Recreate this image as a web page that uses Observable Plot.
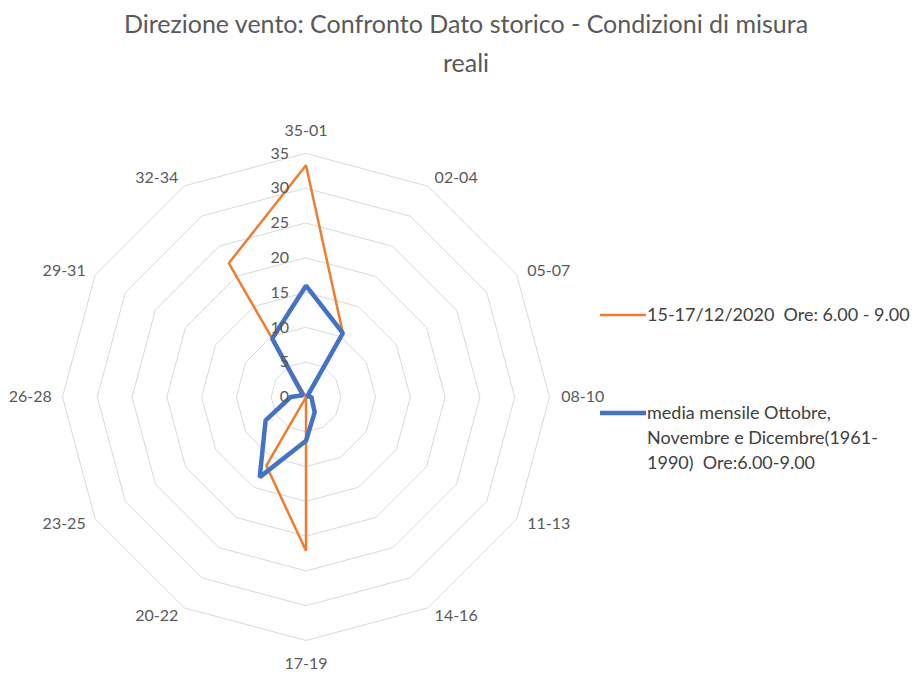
<!DOCTYPE html>
<html><head><meta charset="utf-8">
<script src="https://cdn.jsdelivr.net/npm/d3@7"></script>
<script src="https://cdn.jsdelivr.net/npm/@observablehq/plot@0.6"></script>
<style>
body{margin:0;background:#fff;font-family:Lato,"Open Sans",sans-serif;}
#wrap{position:relative;width:918px;height:675px;overflow:hidden;background:#fff}
#title{position:absolute;left:0;top:4px;width:932px;text-align:center;font-size:25px;line-height:39px;color:#595959}
#chart{position:absolute;left:0;top:85px}
.leg{position:absolute;left:600px;font-size:18px;color:#404040;line-height:25px;display:flex;align-items:flex-start;white-space:pre}
.leg svg{flex:none}
.leg span{margin-left:1px}
</style></head><body>
<div id="wrap">
<div id="title">Direzione vento: Confronto Dato storico - Condizioni di misura<br>reali</div>
<div id="chart"></div>
<div id="legend"></div>
</div>
<script>
const categories = ["35-01","02-04","05-07","08-10","11-13","14-16","17-19","20-22","23-25","26-28","29-31","32-34"];
const recentName = "15-17/12/2020  Ore: 6.00 - 9.00";
const recentValues = [33.3, 10.6, 0, 0, 0, 0, 22.1, 11.4, 0, 0, 0, 22.2];
const historicName = "media mensile Ottobre, Novembre e Dicembre(1961-1990)  Ore:6.00-9.00";
const historicValues = [16.0, 10.6, 0.2, 0.8, 1.0, 2.5, 6.3, 13.3, 6.7, 2.2, 0.5, 9.7];
const radialTicks = [0, 5, 10, 15, 20, 25, 30, 35];
const legendLines = [["15-17/12/2020  Ore: 6.00 - 9.00"], ["media mensile Ottobre,", "Novembre e Dicembre(1961-", "1990)  Ore:6.00-9.00"]];

const W = 918, H = 590, cx = 305.5, cy = 311.5;
const rMax = d3.max(radialTicks);
const k = 243.5 / rMax;
const n = categories.length;
const ang = i => i * 2 * Math.PI / n;
const px = (v, i) => v * Math.sin(ang(i));
const py = (v, i) => v * Math.cos(ang(i));

const rings = radialTicks.slice(1).flatMap(t => categories.map((c, i) => ({t, x: px(t, i), y: py(t, i)})));
const toRows = (name, vals) => categories.map((c, i) => ({name, cat: c, x: px(vals[i], i), y: py(vals[i], i)}));
const recent = toRows(recentName, recentValues);
const historic = toRows(historicName, historicValues);

const labR = 36.4, labRv = 38.3;
const labels = categories.map((c, i) => {
  const s = Math.sin(ang(i));
  const anchor = Math.abs(s) < 0.1 ? "middle" : (s > 0 ? "start" : "end");
  const r = anchor === "middle" ? labRv : labR;
  return {c, anchor, x: px(r, i), y: py(r, i)};
});

const txt = {fontSize: 16, fill: "#595959", fontFamily: "Lato, 'Open Sans', sans-serif"};
const chart = Plot.plot({
  width: W, height: H, margin: 0,
  style: {background: "transparent", overflow: "visible"},
  x: {domain: [-cx / k, (W - cx) / k], axis: null},
  y: {domain: [-(H - cy) / k, cy / k], axis: null},
  marks: [
    Plot.line(rings, {x: "x", y: "y", z: "t", curve: "linear-closed", stroke: "#d9d9d9", strokeWidth: 1}),
    Plot.line(recent, {x: "x", y: "y", curve: "linear-closed", stroke: "#ED7D31", strokeWidth: 2.5, strokeLinejoin: "miter"}),
    Plot.line(historic, {x: "x", y: "y", curve: "linear-closed", stroke: "#4472C4", strokeWidth: 4.5, strokeLinejoin: "miter"}),
    Plot.text(radialTicks, {x: () => 0, y: d => d, text: d => String(d), textAnchor: "end", dx: -17, ...txt}),
    ...["start", "middle", "end"].map(a => Plot.text(labels.filter(l => l.anchor === a), {
      x: "x", y: "y", text: "c", textAnchor: a, dx: a === "start" ? 2 : a === "end" ? -1 : 0, ...txt
    }))
  ]
});
document.getElementById("chart").appendChild(chart);

// legend
const legendColors = ["#ED7D31", "#4472C4"], legendWidths = [2.5, 4.5], legendTops = [302, 400];
const lg = document.getElementById("legend");
legendLines.forEach((lines, j) => {
  const div = document.createElement("div");
  div.className = "leg";
  div.style.top = legendTops[j] + "px";
  div.innerHTML = `<svg width="46" height="26"><line x1="0" x2="46" y1="13" y2="13" stroke="${legendColors[j]}" stroke-width="${legendWidths[j]}"/></svg><span>${lines.join("\n")}</span>`;
  lg.appendChild(div);
});
</script>
</body></html>
